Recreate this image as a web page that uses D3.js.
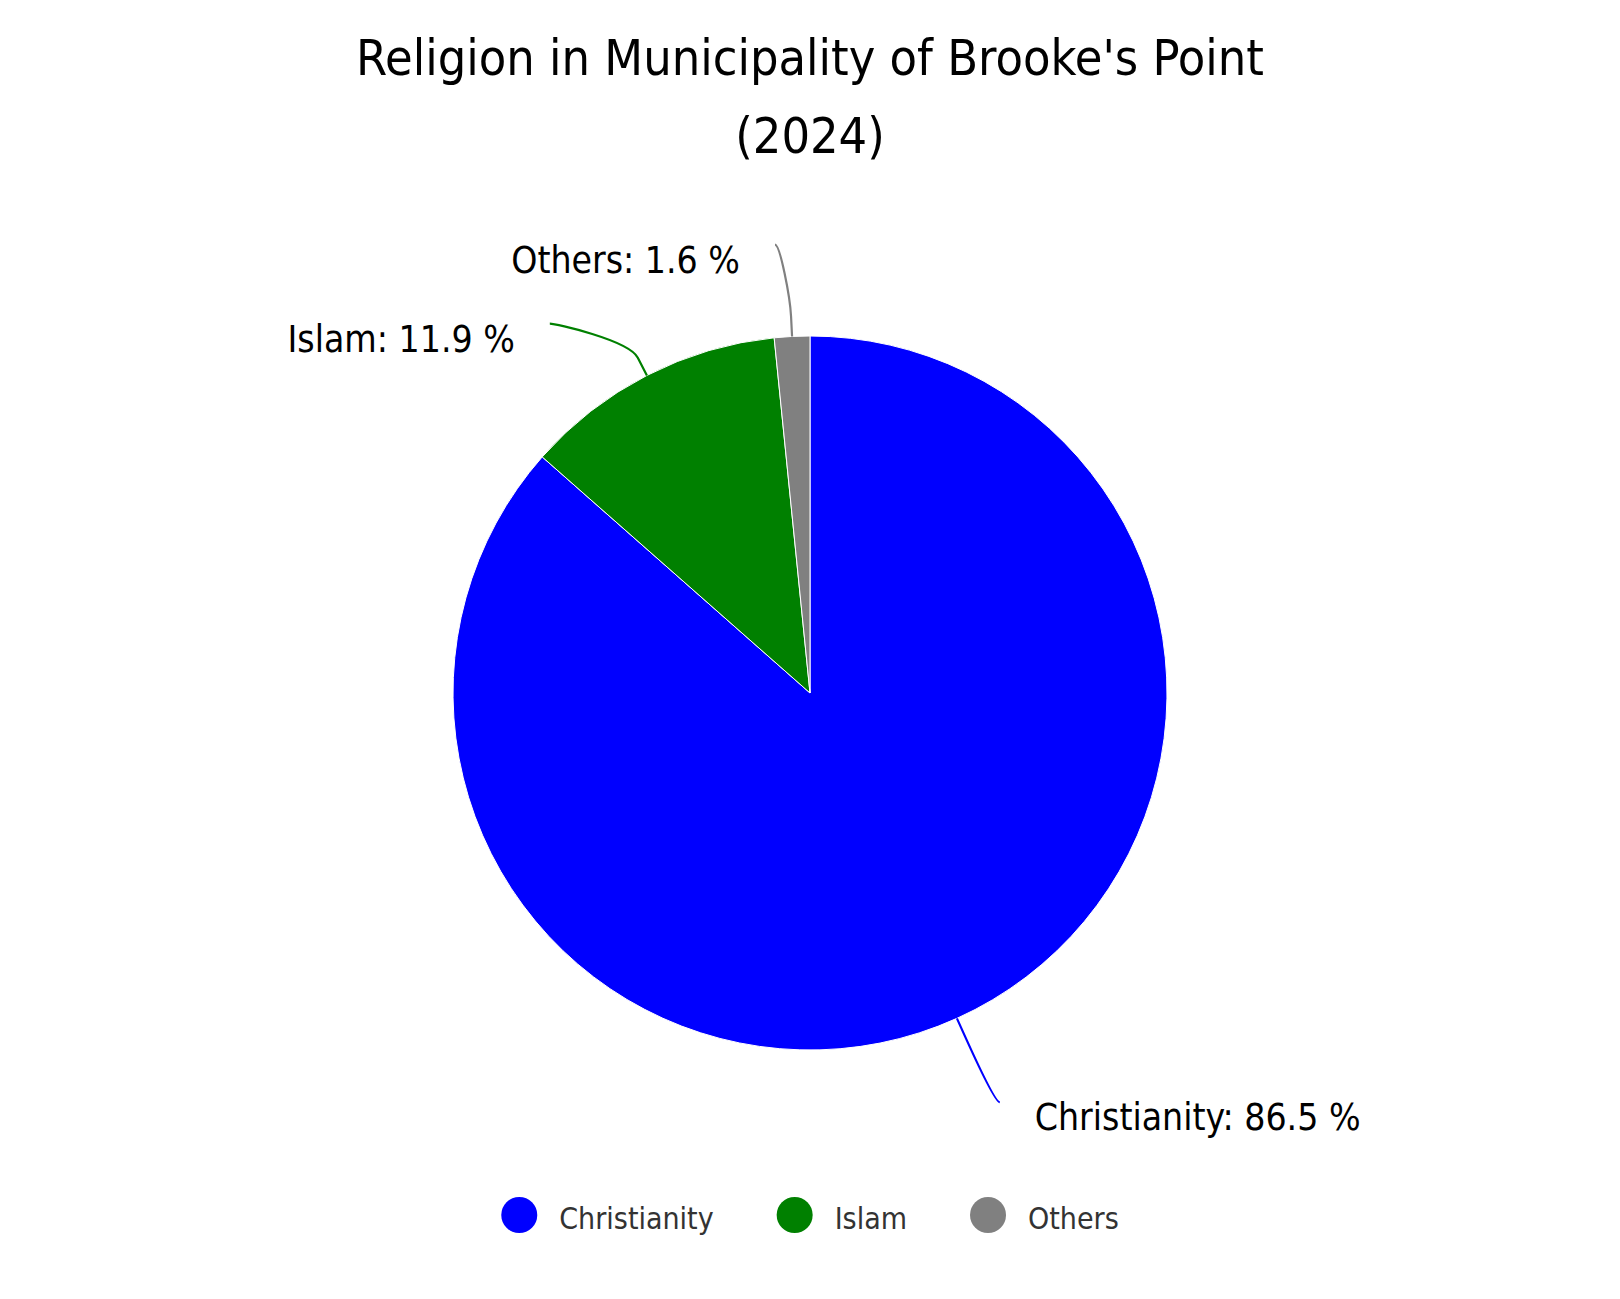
<!DOCTYPE html>
<html lang="en">
<head>
    <meta charset="UTF-8">
    <title>Religion in Municipality of Brooke's Point (2024)</title>
    <style>
        body {
            margin: 0;
            padding: 0;
            background: #fff;
        }
        svg text {
            font-family: "Liberation Sans Narrow", "DejaVu Sans Condensed", "Roboto Condensed", "Open Sans", sans-serif;
            font-stretch: condensed;
        }
        .title {
            font-size: 50px;
            fill: #000;
        }
        .data-label {
            font-size: 37px;
            fill: #000;
        }
        .legend-label {
            font-size: 30px;
            fill: #333;
        }
    </style>
</head>
<body>
    <div id="chart"></div>

    <script src="https://cdnjs.cloudflare.com/ajax/libs/d3/7.8.5/d3.min.js"></script>
    <script>
        const width = 1620;
        const height = 1299;

        // data
        const titleLines = ["Religion in Municipality of Brooke's Point", "(2024)"];
        const categories = ["Christianity", "Islam", "Others"];
        const shares = [86.5, 11.9, 1.6];
        const colors = ["#0000ff", "#008000", "#808080"];

        const cx = 810;
        const cy = 693;
        const radius = 357;
        const labelRadius = radius + 92;

        const svg = d3.select("#chart")
            .append("svg")
            .attr("width", width)
            .attr("height", height);

        // title
        svg.append("text")
            .attr("class", "title")
            .attr("text-anchor", "middle")
            .selectAll("tspan")
            .data(titleLines)
            .enter()
            .append("tspan")
            .attr("x", cx)
            .attr("y", (d, i) => 75 + i * 78)
            .text(d => d);

        const color = d3.scaleOrdinal().domain(categories).range(colors);

        const pie = d3.pie().sort(null).value(d => d.value);
        const arcs = pie(categories.map((c, i) => ({ name: c, value: shares[i] })));

        const arc = d3.arc().innerRadius(0).outerRadius(radius);

        const g = svg.append("g").attr("transform", `translate(${cx},${cy})`);

        g.selectAll("path.slice")
            .data(arcs)
            .enter()
            .append("path")
            .attr("class", "slice")
            .attr("d", arc)
            .attr("fill", d => color(d.data.name))
            .attr("stroke", "#fff")
            .attr("stroke-width", 1)
            .attr("stroke-linejoin", "round");

        // label layout (roughly like highcharts: y from angle, push apart, x on circle)
        function polar(r, a) {
            return [r * Math.sin(a), -r * Math.cos(a)];
        }

        const labels = arcs.map(d => {
            const mid = (d.startAngle + d.endAngle) / 2;
            return {
                d: d,
                mid: mid,
                right: Math.sin(mid) >= 0,
                y: -labelRadius * Math.cos(mid)
            };
        });

        const minGap = 79;
        [true, false].forEach(side => {
            const list = labels.filter(l => l.right === side).sort((a, b) => a.y - b.y);
            for (let i = 1; i < list.length; i++) {
                if (list[i].y - list[i - 1].y < minGap) {
                    list[i].y = list[i - 1].y + minGap;
                }
            }
        });

        // keep labels a bit clear of the vertical axis so the connector gets its hook
        labels.forEach(l => {
            const dy = Math.max(-labelRadius, Math.min(labelRadius, l.y));
            const off = Math.max(30, Math.sqrt(labelRadius * labelRadius - dy * dy));
            l.x = (l.right ? 1 : -1) * off;
        });

        // connectors
        g.selectAll("path.connector")
            .data(labels)
            .enter()
            .append("path")
            .attr("class", "connector")
            .attr("fill", "none")
            .attr("stroke", l => color(l.d.data.name))
            .attr("stroke-width", 2.2)
            .attr("d", l => {
                const edge = polar(radius, l.mid);
                const brk = polar(radius + 20, l.mid);
                const p = d3.path();
                p.moveTo(l.x + (l.right ? 5 : -5), l.y);
                p.bezierCurveTo(l.x, l.y, 2 * brk[0] - edge[0], 2 * brk[1] - edge[1], brk[0], brk[1]);
                p.lineTo(edge[0], edge[1]);
                return p.toString();
            });

        g.selectAll("text.data-label")
            .data(labels)
            .enter()
            .append("text")
            .attr("class", "data-label")
            .attr("x", l => l.x + (l.right ? 40 : -40))
            .attr("y", l => l.y + 28)
            .attr("text-anchor", l => l.right ? "start" : "end")
            .text(l => `${l.d.data.name}: ${l.d.data.value} %`);

        // legend
        const legend = svg.append("g").attr("class", "legend");
        const symR = 18;
        const symGap = 22;
        const itemGap = 63;
        const legendY = 1215;

        const items = legend.selectAll("g.item")
            .data(categories)
            .enter()
            .append("g")
            .attr("class", "item");

        items.append("circle")
            .attr("r", symR)
            .attr("cy", legendY)
            .attr("fill", d => color(d));

        items.append("text")
            .attr("class", "legend-label")
            .attr("y", legendY + 14)
            .text(d => d);

        let widths = [];
        items.each(function() {
            widths.push(d3.select(this).select("text").node().getComputedTextLength());
        });
        const total = d3.sum(widths, w => 2 * symR + symGap + w) + itemGap * (widths.length - 1);
        let pos = cx - total / 2;
        items.each(function(d, i) {
            const it = d3.select(this);
            it.select("circle").attr("cx", pos + symR);
            it.select("text").attr("x", pos + 2 * symR + symGap);
            pos += 2 * symR + symGap + widths[i] + itemGap;
        });
    </script>
</body>
</html>
